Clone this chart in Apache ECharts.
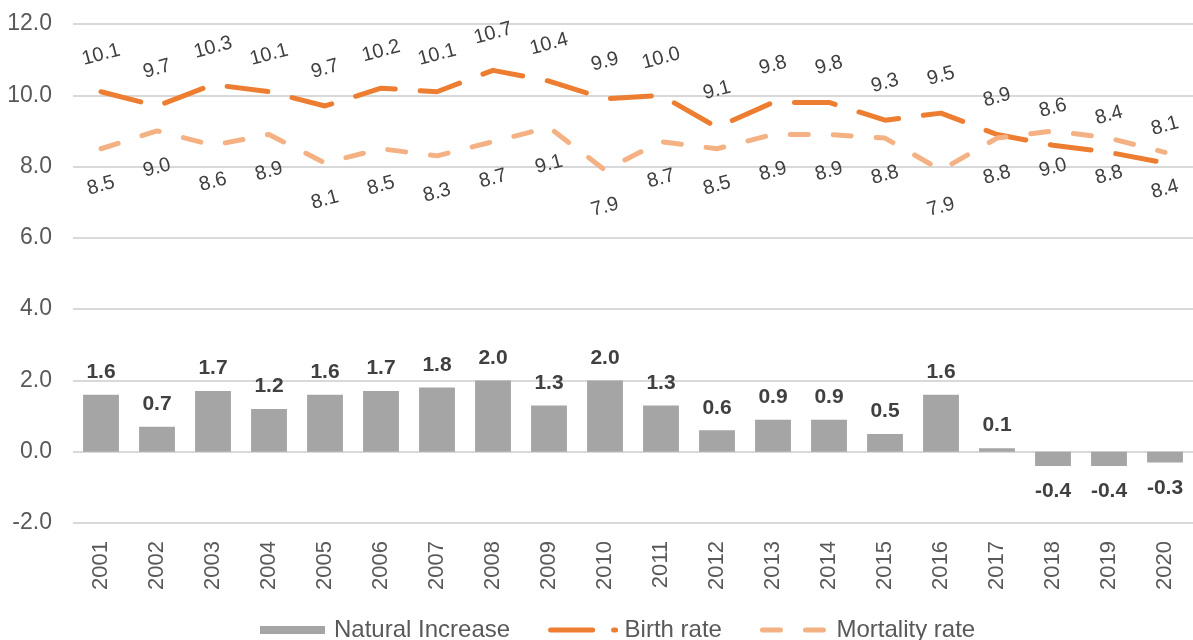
<!DOCTYPE html>
<html>
<head>
<meta charset="utf-8">
<script src="https://cdn.jsdelivr.net/npm/echarts@6/dist/echarts.min.js"></script>
<style>
html,body{margin:0;padding:0;background:#fff;}
#chart{width:1193px;height:640px;}
</style>
</head>
<body>
<div id="chart"></div>
<script>
const years = ['2001','2002','2003','2004','2005','2006','2007','2008','2009','2010','2011','2012','2013','2014','2015','2016','2017','2018','2019','2020'];
const naturalIncrease = [1.6,0.7,1.7,1.2,1.6,1.7,1.8,2.0,1.3,2.0,1.3,0.6,0.9,0.9,0.5,1.6,0.1,-0.4,-0.4,-0.3];
const birthRate = [10.1,9.7,10.3,10.1,9.7,10.2,10.1,10.7,10.4,9.9,10.0,9.1,9.8,9.8,9.3,9.5,8.9,8.6,8.4,8.1];
const mortalityRate = [8.5,9.0,8.6,8.9,8.1,8.5,8.3,8.7,9.1,7.9,8.7,8.5,8.9,8.9,8.8,7.9,8.8,9.0,8.8,8.4];
const seriesNames = ['Natural Increase','Birth rate','Mortality rate'];

const FONT = '"Liberation Sans", Arial, sans-serif';
const fmt = p => Number(p.value).toFixed(1);

const barData = naturalIncrease.map(v => v < 0
  ? { value: v, label: { position: 'bottom', distance: 15 } }
  : { value: v });

const chart = echarts.init(document.getElementById('chart'), null, { renderer: 'canvas' });
chart.setOption({
  animation: false,
  backgroundColor: '#ffffff',
  textStyle: { fontFamily: FONT },
  grid: { left: 73, top: 24, width: 1134, height: 499, containLabel: false },
  legend: {
    left: 255,
    top: 613,
    itemWidth: 65,
    itemHeight: 8,
    itemGap: 38,
    textStyle: { fontFamily: FONT, fontSize: 24, color: '#595959', padding: [0, 0, 0, 4] },
    data: [
      { name: seriesNames[0], icon: 'rect' },
      { name: seriesNames[1], itemStyle: { opacity: 0 },
        lineStyle: { width: 5, type: [42, 21], cap: 'round', color: '#ED7D31' } },
      { name: seriesNames[2], itemStyle: { opacity: 0 },
        lineStyle: { width: 5, type: [18, 25], cap: 'round', color: '#F4B183' } }
    ]
  },
  xAxis: {
    type: 'category',
    data: years,
    axisLine: { show: false, onZero: false },
    axisTick: { show: false },
    axisLabel: { rotate: 90, margin: 18, fontSize: 22, color: '#595959', fontFamily: FONT },
    splitLine: { show: false }
  },
  yAxis: {
    type: 'value',
    min: -2,
    max: 12,
    interval: 2,
    axisLine: { show: false },
    axisTick: { show: false },
    axisLabel: { margin: 21, fontSize: 23, color: '#595959', fontFamily: FONT, formatter: v => v.toFixed(1) },
    splitLine: { lineStyle: { color: '#D9D9D9', width: 2 } }
  },
  series: [
    {
      name: seriesNames[0],
      type: 'bar',
      data: barData,
      barWidth: '64%',
      itemStyle: { color: '#A5A5A5' },
      z: 2,
      label: {
        show: true, position: 'top', distance: 12,
        fontSize: 21, fontWeight: 'bold', color: '#404040', fontFamily: FONT,
        formatter: fmt
      }
    },
    {
      name: seriesNames[1],
      type: 'line',
      data: birthRate,
      symbol: 'circle',
      symbolSize: 0.01,
      showSymbol: true,
      color: '#ED7D31',
      lineStyle: { color: '#ED7D31', width: 5, type: [41, 25], cap: 'round', join: 'round' },
      z: 3,
      label: {
        show: true, position: 'top', distance: 37, rotate: 15,
        align: 'center', verticalAlign: 'middle',
        fontSize: 20, color: '#404040', fontFamily: FONT,
        formatter: fmt
      }
    },
    {
      name: seriesNames[2],
      type: 'line',
      data: mortalityRate,
      symbol: 'circle',
      symbolSize: 0.01,
      showSymbol: true,
      color: '#F4B183',
      lineStyle: { color: '#F4B183', width: 5, type: [18, 25], cap: 'round', join: 'round' },
      z: 4,
      label: {
        show: true, position: 'bottom', distance: 37, rotate: 15,
        align: 'center', verticalAlign: 'middle',
        fontSize: 20, color: '#404040', fontFamily: FONT,
        formatter: fmt
      }
    }
  ]
});
</script>
</body>
</html>
